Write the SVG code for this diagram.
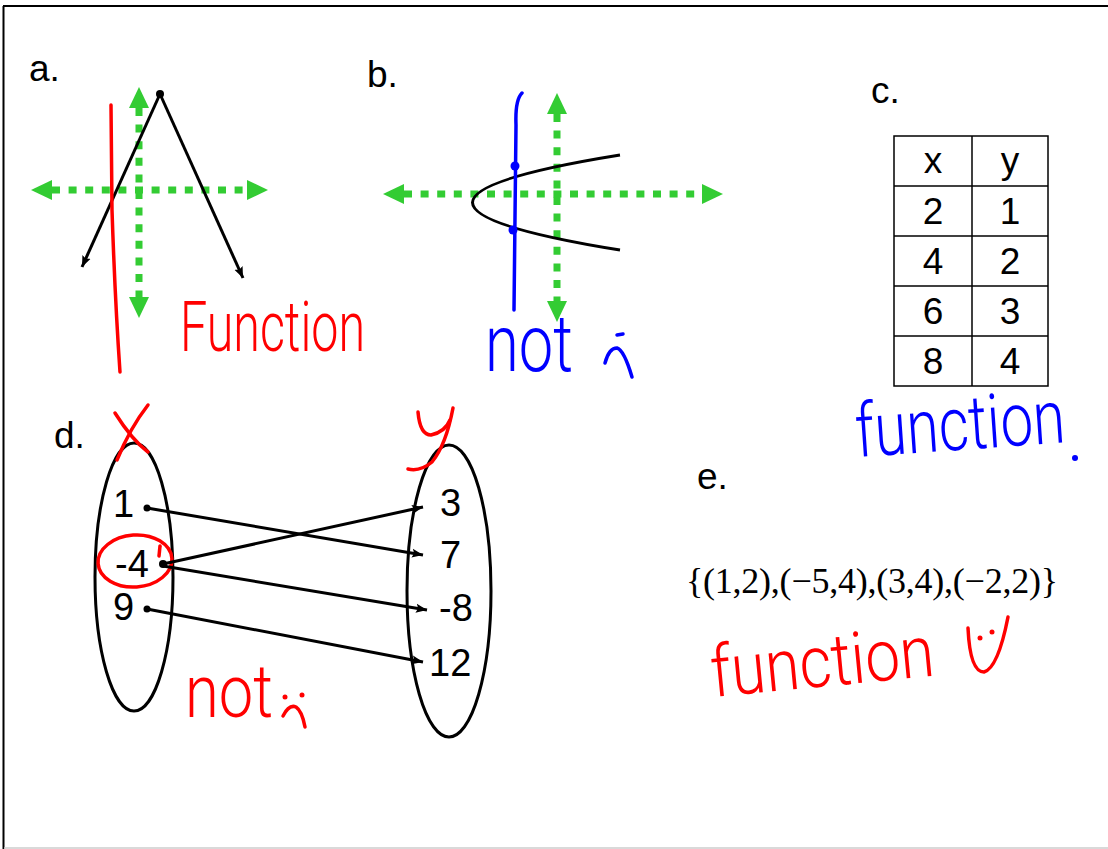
<svg xmlns="http://www.w3.org/2000/svg" width="1108" height="849" viewBox="0 0 1108 849">
<style>
.lbl{font-family:"Liberation Sans",Arial,sans-serif;font-size:37px;fill:#000}
.tbl{font-family:"Liberation Sans",Arial,sans-serif;font-size:37px;fill:#000;text-anchor:middle}
.num{font-family:"Liberation Sans",Arial,sans-serif;font-size:38px;fill:#000}
.hand{font-family:Roboto,"Liberation Sans",sans-serif;font-weight:300}
.axis{stroke:#33cc33;stroke-width:7;stroke-dasharray:8 8.6;fill:none}
.blk{stroke:#000;stroke-width:3;fill:none}
.red{stroke:#ff0000;stroke-width:3.5;fill:none;stroke-linecap:round;stroke-linejoin:round}
.blue{stroke:#0000ff;stroke-width:3.5;fill:none;stroke-linecap:round;stroke-linejoin:round}
.math{font-family:"Liberation Serif","Times New Roman",serif;fill:#000}
</style>
<defs>
<marker id="ga" markerUnits="userSpaceOnUse" markerWidth="22" markerHeight="20" refX="0" refY="10" orient="auto-start-reverse"><path d="M0,0 L21,10 L0,20 z" fill="#33cc33"/></marker>
<marker id="ah" markerUnits="userSpaceOnUse" markerWidth="12" markerHeight="10" refX="11" refY="5" orient="auto"><path d="M0,0.5 L11,5 L0,9.5 L2,5 z" fill="#000"/></marker>
</defs>
<rect width="1108" height="849" fill="#fff"/>
<g id="frame">
<line x1="3" y1="6" x2="1108" y2="6" stroke="#000" stroke-width="2"/>
<line x1="3.5" y1="6" x2="3.5" y2="849" stroke="#000" stroke-width="2"/>
<line x1="4" y1="848" x2="1108" y2="848" stroke="#ccc" stroke-width="1.5"/>
</g>
<g id="graph-a">
<text class="lbl" x="29" y="81">a.</text>
<line class="axis" x1="52" y1="190" x2="247" y2="190" marker-start="url(#ga)" marker-end="url(#ga)"/>
<line class="axis" x1="139" y1="108" x2="139" y2="297" marker-start="url(#ga)" marker-end="url(#ga)"/>
<line class="blk" x1="160" y1="94" x2="82" y2="267" marker-end="url(#ah)"/>
<line class="blk" x1="160" y1="94" x2="243" y2="278" marker-end="url(#ah)"/>
<circle cx="160" cy="94" r="4" fill="#000"/>
<path class="red" d="M111,105 L112,210 Q115,300 120,372"/>
<text class="hand" x="180" y="351" font-size="70" fill="#ff0000" textLength="185" lengthAdjust="spacingAndGlyphs">Function</text>
</g>
<g id="graph-b">
<text class="lbl" x="367" y="87">b.</text>
<line class="axis" x1="404" y1="194" x2="702" y2="194" marker-start="url(#ga)" marker-end="url(#ga)"/>
<line class="axis" x1="557" y1="114" x2="557" y2="301" marker-start="url(#ga)" marker-end="url(#ga)"/>
<path class="blk" d="M620,155 Q325,202.5 620,250"/>
<path class="blue" d="M522,93 Q515,100 516,125 L514,310"/>
<circle cx="515" cy="166" r="4.5" fill="#0000ff"/>
<circle cx="513" cy="230" r="4.5" fill="#0000ff"/>
<text class="hand" x="485" y="371" font-size="80" fill="#0000ff" textLength="88" lengthAdjust="spacingAndGlyphs">not</text>
<path class="blue" d="M617,335 L623,334"/>
<path class="blue" d="M605,363 Q609,348 617,348 Q624,350 632,377"/>
</g>
<g id="table-c">
<text class="lbl" x="871" y="103">c.</text>
<g stroke="#000" stroke-width="1.5" fill="none">
<rect x="894" y="136" width="154" height="250"/>
<line x1="972" y1="136" x2="972" y2="386"/>
<line x1="894" y1="186" x2="1048" y2="186"/>
<line x1="894" y1="236" x2="1048" y2="236"/>
<line x1="894" y1="286" x2="1048" y2="286"/>
<line x1="894" y1="336" x2="1048" y2="336"/>
</g>
<text class="tbl" x="933" y="173">x</text><text class="tbl" x="1010" y="173">y</text>
<text class="tbl" x="933" y="224">2</text><text class="tbl" x="1010" y="224">1</text>
<text class="tbl" x="933" y="274">4</text><text class="tbl" x="1010" y="274">2</text>
<text class="tbl" x="933" y="324">6</text><text class="tbl" x="1010" y="324">3</text>
<text class="tbl" x="933" y="374">8</text><text class="tbl" x="1010" y="374">4</text>
<text class="hand" x="857" y="457" font-size="75" fill="#0000ff" textLength="210" lengthAdjust="spacingAndGlyphs" transform="rotate(-4 857 457)">function</text>
<circle cx="1075" cy="458" r="3" fill="#0000ff"/>
</g>
<g id="mapping-d">
<text class="lbl" x="54" y="448">d.</text>
<ellipse class="blk" cx="134" cy="577" rx="39" ry="134"/>
<ellipse class="blk" cx="449" cy="591" rx="42" ry="146"/>
<text class="num" x="113" y="517">1</text>
<text class="num" x="115" y="577">-4</text>
<text class="num" x="113" y="620">9</text>
<text class="num" x="440" y="516">3</text>
<text class="num" x="440" y="568">7</text>
<text class="num" x="439" y="621">-8</text>
<text class="num" x="429" y="676">12</text>
<circle cx="147" cy="508" r="3.5" fill="#000"/>
<circle cx="163" cy="564" r="4" fill="#000"/>
<circle cx="147" cy="609" r="3.5" fill="#000"/>
<path class="red" d="M148,405 Q130,428 117,460"/>
<path class="red" d="M115,413 Q132,440 148,452"/>
<path class="red" d="M418,412 Q420,435 431,435 Q445,432 450,420"/>
<path class="red" d="M453,408 Q446,445 432,462 Q420,472 408,469"/>
<ellipse class="red" cx="135" cy="561" rx="37" ry="26" transform="rotate(-4 135 561)"/>
<path class="red" d="M160,546 L159,556"/>
<text class="hand" x="185" y="717" font-size="75" fill="#ff0000" textLength="88" lengthAdjust="spacingAndGlyphs">not</text>
<circle cx="285" cy="697" r="2.5" fill="#ff0000"/>
<circle cx="302" cy="695" r="2.5" fill="#ff0000"/>
<path class="red" d="M283,716 Q289,704 296,707 Q302,711 305,727"/>
</g>
<g id="set-e">
<text class="lbl" x="697" y="489">e.</text>
<text class="math" x="686" y="593" font-size="36" textLength="372" lengthAdjust="spacing">{(1,2),(−5,4),(3,4),(−2,2)}</text>
<text class="hand" x="713" y="697" font-size="72" fill="#ff0000" textLength="224" lengthAdjust="spacingAndGlyphs" transform="rotate(-5.5 713 697)">function</text>
<path class="red" d="M968,628 Q970,672 984,672 Q998,668 1008,617"/>
<circle cx="980" cy="638" r="2.5" fill="#ff0000"/>
<circle cx="992" cy="632" r="2.5" fill="#ff0000"/>
</g>
<g id="connectors">
<line class="blk" x1="147" y1="508" x2="423" y2="555" marker-end="url(#ah)"/>
<line class="blk" x1="163" y1="564" x2="423" y2="507" marker-end="url(#ah)"/>
<line class="blk" x1="163" y1="566" x2="427" y2="610" marker-end="url(#ah)"/>
<line class="blk" x1="147" y1="609" x2="423" y2="662" marker-end="url(#ah)"/>
</g>
</svg>
